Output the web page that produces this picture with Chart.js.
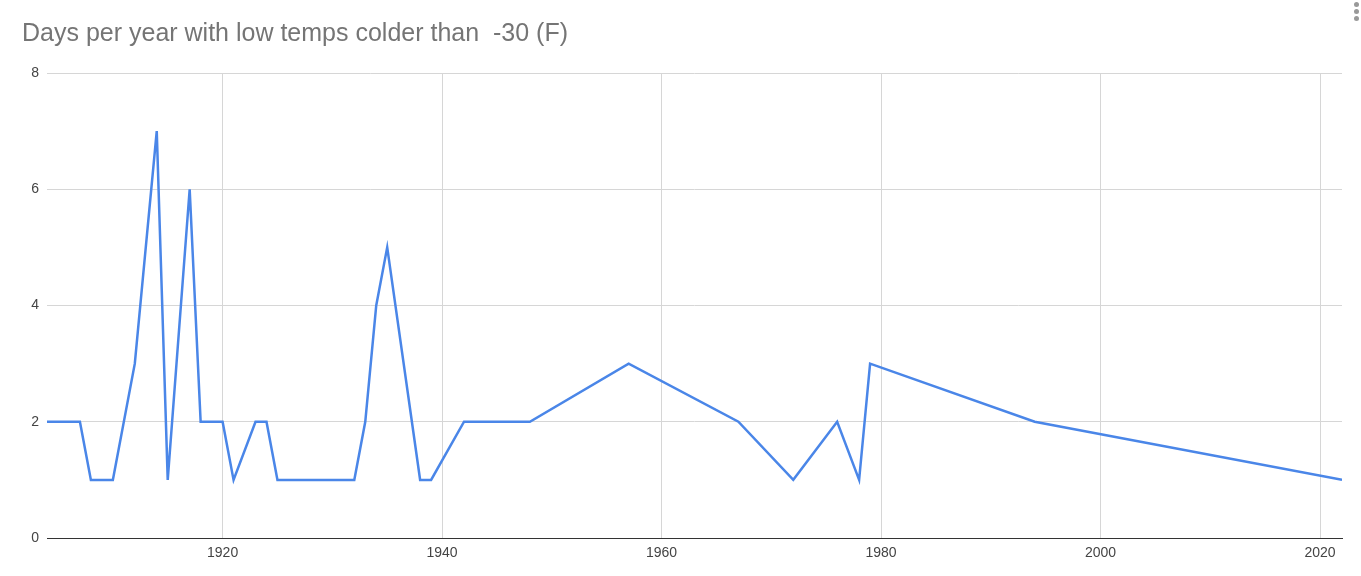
<!DOCTYPE html>
<html>
<head>
<meta charset="utf-8">
<script src="https://cdn.jsdelivr.net/npm/chart.js@4/dist/chart.umd.min.js"></script>
<style>
  html, body { margin: 0; padding: 0; background: #fff; }
  #wrap { position: relative; width: 1361px; height: 576px; }
  #title {
    position: absolute; left: 22px; top: 18px;
    font-family: "Liberation Sans", Arial, sans-serif;
    font-size: 25px; color: #757575; white-space: pre;
  }
  #menu { position: absolute; right: 1px; top: 2px; width: 6px; }
  #menu span { display: block; width: 5px; height: 5px; border-radius: 50%; background: #999; margin-bottom: 2px; }
</style>
</head>
<body>
<div id="wrap">
  <canvas id="chart" width="1361" height="576"></canvas>
  <div id="title">Days per year with low temps colder than  -30 (F)</div>
  <div id="menu"><span></span><span></span><span></span></div>
</div>
<script>
// data
const years = [1904, 1907, 1908, 1910, 1912, 1914, 1915, 1917, 1918, 1920, 1921, 1923, 1924, 1925, 1932, 1933, 1934, 1935, 1938, 1939, 1942, 1948, 1957, 1967, 1972, 1976, 1978, 1979, 1994, 2022];
const days  = [2, 2, 1, 1, 3, 7, 1, 6, 2, 2, 1, 2, 2, 1, 1, 2, 4, 5, 1, 1, 2, 2, 3, 2, 1, 2, 1, 3, 2, 1];
const xTicks = [1920, 1940, 1960, 1980, 2000, 2020];
const yTicks = [0, 2, 4, 6, 8];

const points = years.map((y, i) => ({ x: y, y: days[i] }));
const font = { family: '"Liberation Sans", Arial, sans-serif', size: 14 };

new Chart(document.getElementById('chart'), {
  type: 'scatter',
  data: {
    datasets: [{
      data: points,
      showLine: true,
      borderColor: '#4a86e8',
      borderWidth: 2.5,
      pointRadius: 0,
      tension: 0,
      fill: false
    }]
  },
  options: {
    responsive: false,
    animation: false,
    layout: { padding: { top: 73, right: 19, left: 0, bottom: 0 } },
    plugins: { legend: { display: false }, tooltip: { enabled: false } },
    scales: {
      x: {
        type: 'linear',
        min: 1904, max: 2022,
        afterBuildTicks: s => { s.ticks = xTicks.map(v => ({ value: v })); },
        afterFit: s => { s.height = 38; },
        ticks: { color: '#444', font: font, padding: 7, maxRotation: 0, callback: v => String(v) },
        grid: { color: '#d6d6d6', drawTicks: false, lineWidth: 1 },
        border: { display: true, color: '#333', width: 1 }
      },
      y: {
        min: 0, max: 8,
        afterBuildTicks: s => { s.ticks = yTicks.map(v => ({ value: v })); },
        afterFit: s => { s.width = 47; },
        ticks: { color: '#444', font: font, padding: 8 },
        grid: { color: '#d6d6d6', drawTicks: false, lineWidth: 1 },
        border: { display: false }
      }
    }
  }
});
</script>
</body>
</html>
